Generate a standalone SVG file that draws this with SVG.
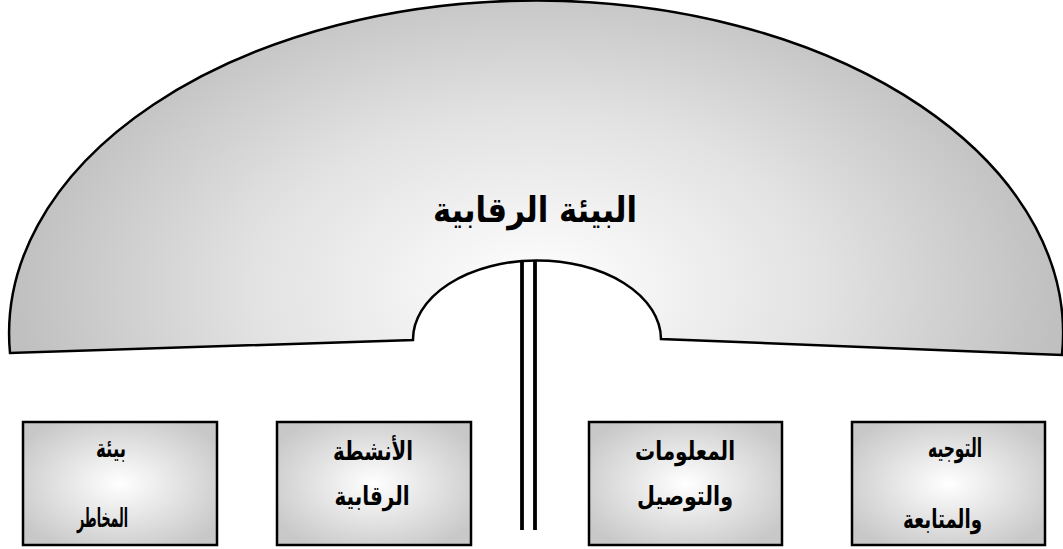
<svg xmlns="http://www.w3.org/2000/svg" width="1063" height="549" viewBox="0 0 1063 549">
<style>
.ar{font-family:"DejaVu Sans Condensed","DejaVu Sans",sans-serif;font-weight:bold;fill:#000}
.box{stroke:#000;stroke-width:2.5;fill:url(#gBox)}
.conn{stroke:#000;stroke-width:3.8;fill:none}
</style>
<defs>
<radialGradient id="gArc" gradientUnits="userSpaceOnUse" cx="537" cy="290" r="520" gradientTransform="translate(537 290) scale(1 0.62) translate(-537 -290)">
<stop offset="0" stop-color="#ffffff"/>
<stop offset="0.55" stop-color="#e2e2e2"/>
<stop offset="1" stop-color="#c0c0c0"/>
</radialGradient>
<radialGradient id="gBox" cx="0.5" cy="0.5" r="0.6">
<stop offset="0" stop-color="#ffffff"/>
<stop offset="1" stop-color="#c8c8c8"/>
</radialGradient>
</defs>
<g id="arc">
<path d="M 10 353 A 527 333 0 1 1 1062 355 L 661 339 A 124 79 0 1 0 413 340 Z" fill="url(#gArc)" stroke="#000" stroke-width="2.5" stroke-linejoin="miter"/>
<text class="ar" x="535" y="222" font-size="35" text-anchor="middle" textLength="204" lengthAdjust="spacingAndGlyphs">البيئة الرقابية</text>
</g>
<g id="connectors">
<line class="conn" x1="522" y1="260" x2="522" y2="530"/>
<line class="conn" x1="535" y1="260" x2="535" y2="530"/>
</g>
<g id="box1">
<rect class="box" x="23" y="422" width="194" height="123"/>
<text class="ar" x="126" y="457" font-size="26" text-anchor="end" textLength="30" lengthAdjust="spacingAndGlyphs">بيئة</text>
<text class="ar" x="128" y="527" font-size="26" text-anchor="end" textLength="51" lengthAdjust="spacingAndGlyphs">المخاطر</text>
</g>
<g id="box2">
<rect class="box" x="277" y="422" width="194" height="123"/>
<text class="ar" x="373" y="460" font-size="26" text-anchor="middle" textLength="80" lengthAdjust="spacingAndGlyphs">الأنشطة</text>
<text class="ar" x="372" y="505" font-size="26" text-anchor="middle" textLength="75" lengthAdjust="spacingAndGlyphs">الرقابية</text>
</g>
<g id="box3">
<rect class="box" x="589" y="422" width="193" height="123"/>
<text class="ar" x="685" y="460" font-size="26" text-anchor="middle" textLength="100" lengthAdjust="spacingAndGlyphs">المعلومات</text>
<text class="ar" x="685" y="505" font-size="26" text-anchor="middle" textLength="96" lengthAdjust="spacingAndGlyphs">والتوصيل</text>
</g>
<g id="box4">
<rect class="box" x="852" y="422" width="193" height="123"/>
<text class="ar" x="982" y="457" font-size="26" text-anchor="end" textLength="54" lengthAdjust="spacingAndGlyphs">التوجيه</text>
<text class="ar" x="982" y="528" font-size="26" text-anchor="end" textLength="79" lengthAdjust="spacingAndGlyphs">والمتابعة</text>
</g>
</svg>
